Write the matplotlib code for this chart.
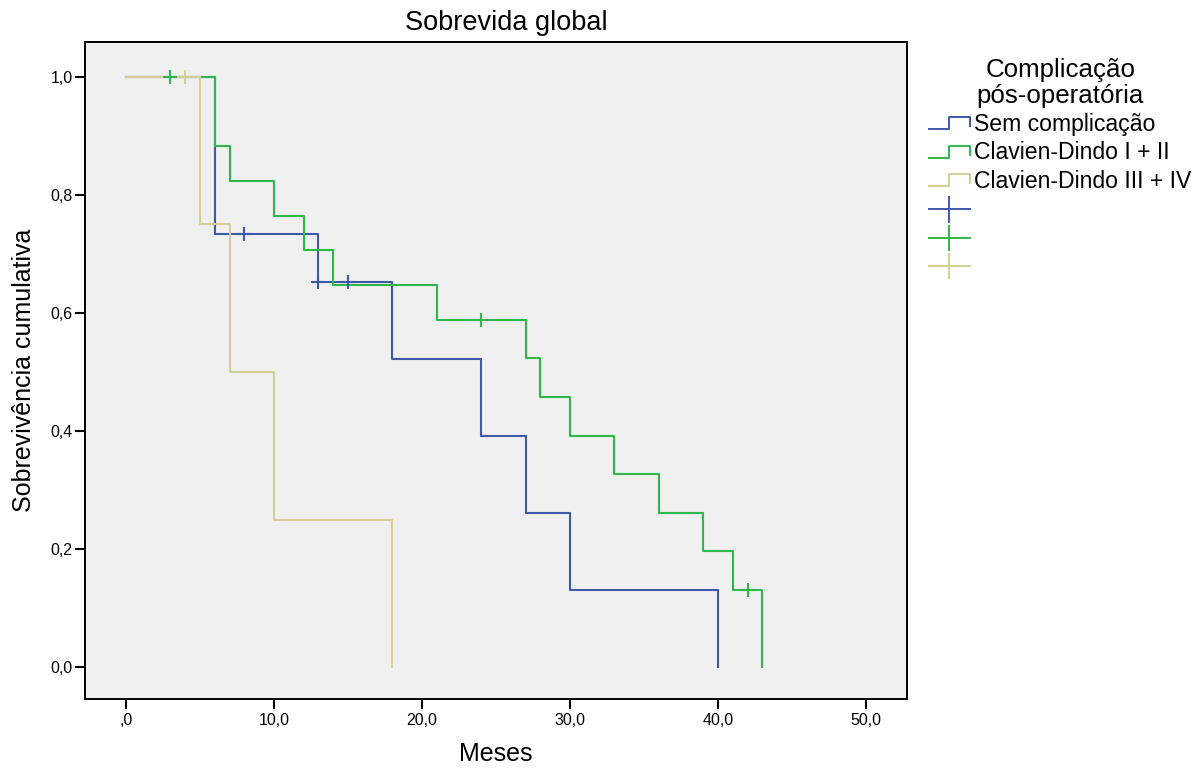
import numpy as np
import matplotlib
matplotlib.use("Agg")
import matplotlib.pyplot as plt
from matplotlib.lines import Line2D
from matplotlib.legend_handler import HandlerBase

# ---------------- data ----------------
groups = ["Sem complicação", "Clavien-Dindo I + II", "Clavien-Dindo III + IV"]
colors = ["#3E58AC", "#2EB848", "#D3CE97"]

sem_times = [0, 6, 13, 18, 24, 27, 30, 40]
sem_surv = [1.0, 0.733, 0.652, 0.522, 0.391, 0.261, 0.130, 0.0]
sem_cens = [8, 13, 15]

cd12_times = [0, 6, 7, 10, 12, 14, 21, 27, 28, 30, 33, 36, 39, 41, 43]
cd12_surv = [1.0, 0.882, 0.824, 0.765, 0.706, 0.647, 0.588, 0.523, 0.458,
             0.392, 0.327, 0.261, 0.196, 0.131, 0.0]
cd12_cens = [3, 24, 42]

cd34_times = [0, 5, 7, 10, 18]
cd34_surv = [1.0, 0.75, 0.5, 0.25, 0.0]
cd34_cens = [4]

x_ticks = [0, 10, 20, 30, 40, 50]
x_ticklabels = [",0", "10,0", "20,0", "30,0", "40,0", "50,0"]
y_ticks = [0.0, 0.2, 0.4, 0.6, 0.8, 1.0]
y_ticklabels = ["0,0", "0,2", "0,4", "0,6", "0,8", "1,0"]

# ---------------- figure ----------------
plt.rcParams['font.family'] = ['Liberation Sans', 'DejaVu Sans']
fig = plt.figure(figsize=(11.96, 7.69), dpi=100)
ax = fig.add_axes([85/1196, 1-699/769, (907-85)/1196, (699-42)/769])
ax.set_facecolor("#F0F0F0")

series = [(sem_times, sem_surv, sem_cens),
          (cd12_times, cd12_surv, cd12_cens),
          (cd34_times, cd34_surv, cd34_cens)]

for (t, s, c), col in zip(series, colors):
    ax.step(t, s, where='post', color=col, lw=1.5, zorder=3)
for (t, s, c), col in zip(series, colors):
    t_arr = np.asarray(t); s_arr = np.asarray(s)
    idx = np.searchsorted(t_arr, c, side='right') - 1
    ax.plot(c, s_arr[idx], ls='none', marker='+', ms=9.5, mew=1.5,
            color=col, zorder=4)

ax.set_xlim(-2.77, 52.77)
ax.set_ylim(-0.054, 1.059)
ax.set_xticks(x_ticks)
ax.set_xticklabels(x_ticklabels)
ax.set_yticks(y_ticks)
ax.set_yticklabels(y_ticklabels)
for sp in ax.spines.values():
    sp.set_linewidth(1.4)
    sp.set_color("black")
ax.tick_params(direction='out', length=7.5, width=1.5, labelsize=11.5)
ax.tick_params(axis='x', pad=2.5)
ax.tick_params(axis='y', pad=1.5)

ax.set_title("Sobrevida global", fontsize=19.5, pad=9, x=0.512)
ax.set_xlabel("Meses", fontsize=18, labelpad=10)
ax.set_ylabel("Sobrevivência cumulativa", fontsize=18, labelpad=10)


class StepHandler(HandlerBase):
    def create_artists(self, legend, orig_handle, xdescent, ydescent,
                       width, height, fontsize, trans):
        x0 = -xdescent
        y0 = -ydescent
        xs = [x0, x0 + 0.5*width, x0 + 0.5*width, x0 + width, x0 + width]
        ys = [y0 + 0.1*height, y0 + 0.1*height, y0 + 0.85*height,
              y0 + 0.85*height, y0 + 0.3*height]
        ln = Line2D(xs, ys, color=orig_handle.get_color(), lw=1.4,
                    transform=trans)
        return [ln]


class CrossHandler(HandlerBase):
    def create_artists(self, legend, orig_handle, xdescent, ydescent,
                       width, height, fontsize, trans):
        x0 = -xdescent
        y0 = -ydescent
        ym = y0 + 0.4*height
        h = Line2D([x0, x0 + width], [ym, ym], color=orig_handle.get_color(),
                   lw=1.4, transform=trans)
        v = Line2D([x0 + 0.5*width]*2, [ym - 0.75*height, ym + 0.75*height],
                   color=orig_handle.get_color(), lw=1.4, transform=trans)
        return [h, v]


class StepProxy(Line2D):
    pass


class CrossProxy(Line2D):
    pass


handles = [StepProxy([], [], color=c) for c in colors] + \
          [CrossProxy([], [], color=c) for c in colors]
labels = groups + ["", "", ""]
leg = fig.legend(handles, labels, loc='upper left',
                 bbox_to_anchor=(920/1196, 1-49/769),
                 frameon=False, fontsize=16.6,
                 title="Complicação\npós-operatória", title_fontsize=18.6,
                 handlelength=1.75, handletextpad=0.18, labelspacing=0.23,
                 borderaxespad=0,
                 handler_map={StepProxy: StepHandler(),
                              CrossProxy: CrossHandler()})
leg.get_title().set_multialignment('center')
leg.get_title().set_linespacing(1.08)

fig.savefig("out.png", dpi=100)
